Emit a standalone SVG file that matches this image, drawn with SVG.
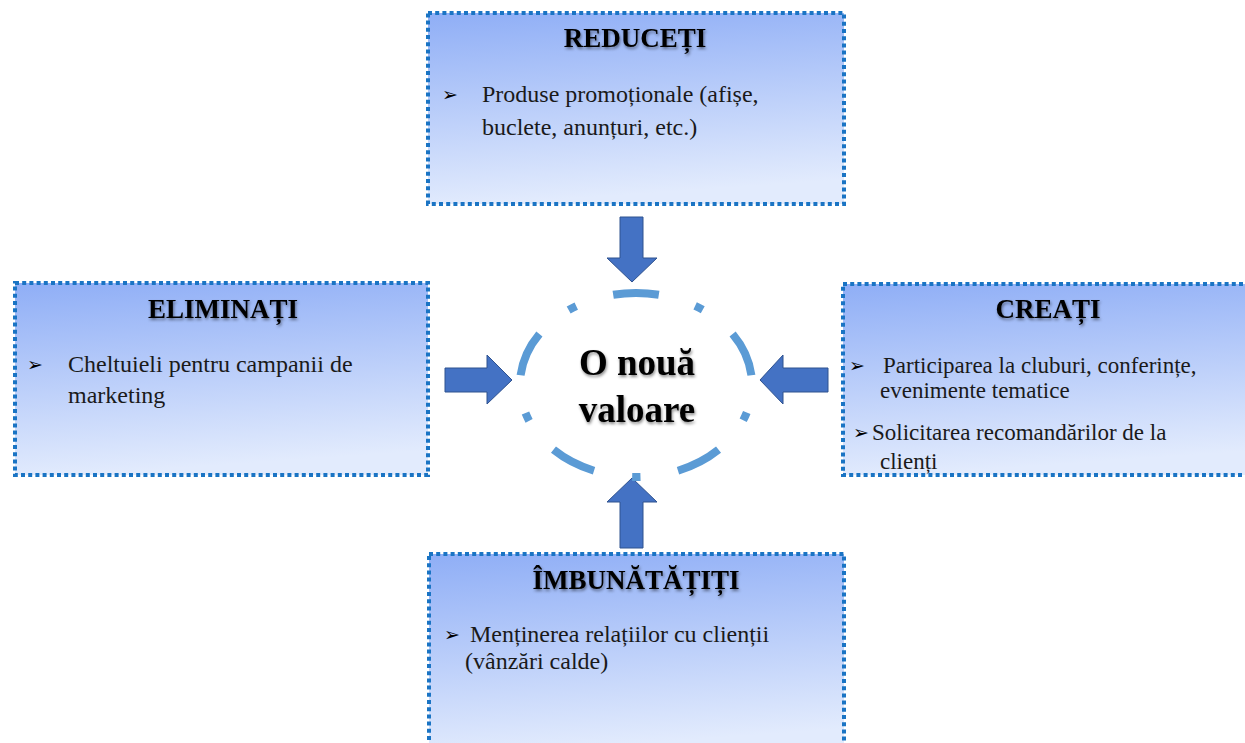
<svg xmlns="http://www.w3.org/2000/svg" width="1245" height="743" viewBox="0 0 1245 743">
<style>
.box{stroke:#1A74C4;stroke-width:4;stroke-dasharray:4 3.2;fill:url(#g)}
.ttl{font-family:"Liberation Serif","Times New Roman",serif;font-weight:bold;font-size:27px;fill:#000;text-anchor:middle;filter:url(#sh)}
.txt{font-family:"Liberation Serif","Times New Roman",serif;font-size:24px;fill:#1a1a1a}
.sm{font-size:23px}
.bul{font-family:"DejaVu Sans",sans-serif;font-size:19px;fill:#000}
.arr{fill:#4472C4;stroke:#2F528F;stroke-width:1}
.ctr{font-family:"Liberation Serif","Times New Roman",serif;font-weight:bold;font-size:37px;fill:#000;text-anchor:middle;filter:url(#sh)}
</style>
<defs>
<linearGradient id="g" x1="0" y1="0" x2="0.15" y2="1">
<stop offset="0" stop-color="#8FAEF6"/>
<stop offset="1" stop-color="#E2EBFD"/>
</linearGradient>
<filter id="sh" x="-10%" y="-30%" width="120%" height="160%">
<feDropShadow dx="1" dy="2" stdDeviation="1.8" flood-color="#000" flood-opacity="0.45"/>
</filter>
</defs>
<rect width="1245" height="743" fill="#fff"/>
<g id="connectors">
<polygon class="arr" points="620,217 643,217 643,258 657,258 632,282 607,258 620,258"/>
<polygon class="arr" points="607,502 632,478 657,502 643,502 643,548 620,548 620,502"/>
<polygon class="arr" points="445,368 487,368 487,355 512,380 487,404 487,392 445,392"/>
<polygon class="arr" points="828,368 783,368 783,355 760,380 783,404 783,392 828,392"/>
</g>
<g id="center">
<path d="M636,293 A116,92 0 1 1 636,477 A116,92 0 1 1 636,293" fill="none" stroke="#5B9BD5" stroke-width="8" pathLength="1000" stroke-dasharray="70 58 13 59" stroke-dashoffset="35"/>
<text class="ctr" x="637" y="375">O nouă</text>
<text class="ctr" x="637" y="422">valoare</text>
</g>
<g id="reduceti">
<rect class="box" x="428" y="13" width="416" height="191"/>
<text class="ttl" x="635" y="47">REDUCEȚI</text>
<text class="bul" x="442" y="101">➢</text>
<text class="txt" x="482" y="102">Produse promoționale (afișe,</text>
<text class="txt" x="482" y="135">buclete, anunțuri, etc.)</text>
</g>
<g id="eliminati">
<rect class="box" x="15" y="283" width="413" height="192"/>
<text class="ttl" x="223" y="318">ELIMINAȚI</text>
<text class="bul" x="27" y="371">➢</text>
<text class="txt" x="68" y="372">Cheltuieli pentru campanii de</text>
<text class="txt" x="68" y="403">marketing</text>
</g>
<g id="creati">
<rect class="box" x="843" y="284" width="410" height="191"/>
<text class="ttl" x="1048" y="318">CREAȚI</text>
<text class="bul" x="849" y="372">➢</text>
<text class="txt sm" x="883" y="373">Participarea la cluburi, conferințe,</text>
<text class="txt sm" x="880" y="398">evenimente tematice</text>
<text class="bul" x="853" y="439">➢</text>
<text class="txt sm" x="872" y="440">Solicitarea recomandărilor de la</text>
<text class="txt sm" x="880" y="469">clienți</text>
</g>
<g id="imbunatatiti">
<rect class="box" x="429" y="554" width="415" height="200"/>
<text class="ttl" x="636" y="589">ÎMBUNĂTĂȚIȚI</text>
<text class="bul" x="444" y="641">➢</text>
<text class="txt" x="470" y="642">Menținerea relațiilor cu clienții</text>
<text class="txt" x="465" y="669">(vânzări calde)</text>
</g>
</svg>
